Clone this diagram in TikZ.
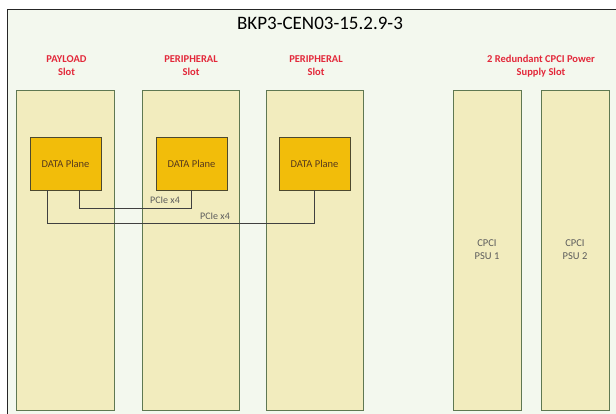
\documentclass[tikz,border=0pt]{standalone}
\usepackage{fontspec}
\setmainfont{Carlito}
\usetikzlibrary{positioning}

\definecolor{bgcol}{HTML}{F3F8EE}
\definecolor{slotcol}{HTML}{F2ECBE}
\definecolor{edgecol}{HTML}{5F7852}
\definecolor{planecol}{HTML}{F2BD0A}
\definecolor{redcol}{HTML}{E3283A}
\definecolor{txtcol}{HTML}{5C5C5C}

\begin{document}
\begin{tikzpicture}[x=1pt, y=-1pt,
    slot/.style={draw=edgecol, fill=slotcol, line width=0.9pt, inner sep=0pt,
                 minimum height=320pt, align=center, text=txtcol,
                 font=\fontsize{10.5}{13}\selectfont},
    plane/.style={draw=black!60!olive, fill=planecol, line width=0.8pt,
                  minimum width=71pt, minimum height=53pt, inner sep=0pt,
                  text=black!55!brown, font=\fontsize{10.5}{12}\selectfont},
    head/.style={text=redcol, align=center, font=\bfseries\fontsize{10.5}{13}\selectfont},
    link/.style={draw=black!75, line width=0.8pt},
    lbl/.style={text=txtcol, inner sep=0pt, font=\fontsize{10}{12}\selectfont}]

    \useasboundingbox (0,0) rectangle (616,414);
    \fill[bgcol] (7,10) rectangle (620,420);
    \draw[line width=1pt, black!85] (7,420) -- (7,10) -- (620,10);

    \node [font=\fontsize{19}{22}\selectfont] (title) at (320,23) {BKP3-CEN03-15.2.9-3};

    % slots
    \node [slot, minimum width=98pt] (s1) at (65,250) {};
    \node [slot, minimum width=97pt] (s2) at (190.5,250) {};
    \node [slot, minimum width=97pt] (s3) at (314.5,250) {};
    \node [slot, minimum width=68pt] (p1) at (487,250) {CPCI\\PSU 1};
    \node [slot, minimum width=68pt] (p2) at (575,250) {CPCI\\PSU 2};

    % slot headings
    \node [head] (h1) at (66.5,66) {PAYLOAD\\Slot};
    \node [head] (h2) at (191,66) {PERIPHERAL\\Slot};
    \node [head] (h3) at (316,66) {PERIPHERAL\\Slot};
    \node [head] (h4) at (541,66) {2 Redundant CPCI Power\\Supply Slot};

    % data planes
    \node [plane] (d1) at (65.5,163.5) {DATA Plane};
    \node [plane] (d2) at (191.5,163.5) {DATA Plane};
    \node [plane] (d3) at (314.5,163.5) {DATA Plane};

    \draw[link] ([xshift=13.5pt]d1.south) -- ++(0,18) -| (d2.south);
    \draw[link] ([xshift=-18.5pt]d1.south) -- ++(0,33) -| (d3.south);

    \node [lbl] (c1) at (165,200) {PCIe x4};
    \node [lbl] (c2) at (215,216) {PCIe x4};
\end{tikzpicture}
\end{document}
